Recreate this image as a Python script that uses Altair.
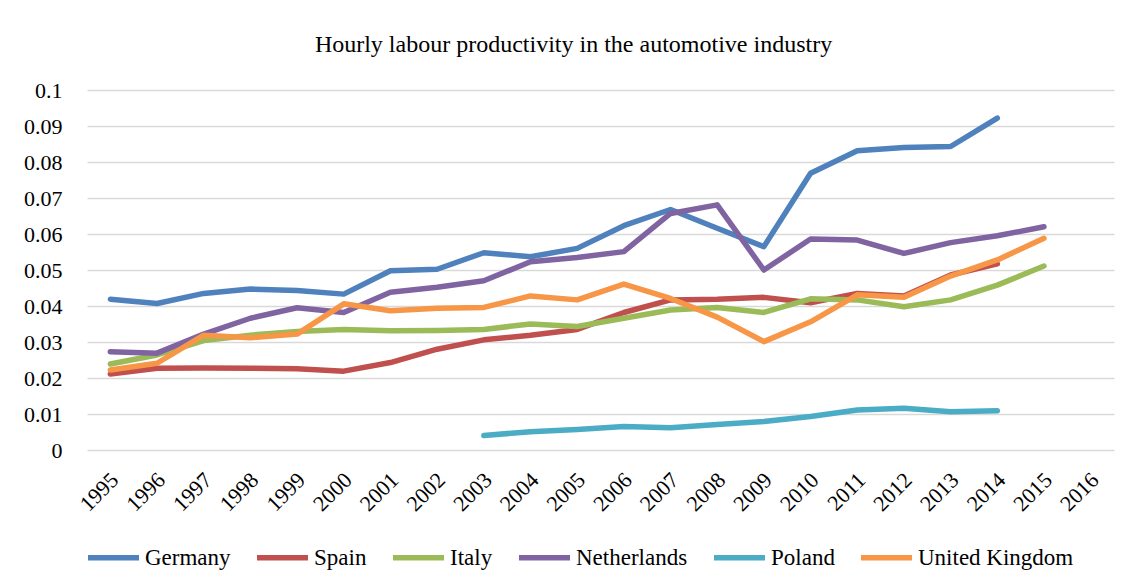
import altair as alt
import pandas as pd

years = [str(y) for y in range(1995, 2017)]

series_names = ["Germany", "Spain", "Italy", "Netherlands", "Poland", "United Kingdom"]
colors = ["#4F81BD", "#C0504D", "#9BBB59", "#8064A2", "#4BACC6", "#F79646"]

germany = [0.0419, 0.0407, 0.0435, 0.0447, 0.0443, 0.0433, 0.0498, 0.0502, 0.0548, 0.0537,
           0.0560, 0.0623, 0.0668, 0.0616, 0.0565, 0.0769, 0.0831, 0.0840, 0.0843, 0.0922]
germany_years = years[0:20]

spain = [0.0211, 0.0227, 0.0228, 0.0227, 0.0226, 0.0219, 0.0243, 0.0280, 0.0306, 0.0319,
         0.0335, 0.0382, 0.0417, 0.0419, 0.0424, 0.0409, 0.0435, 0.0428, 0.0486, 0.0517]
spain_years = years[0:20]

italy = [0.0239, 0.0264, 0.0304, 0.0319, 0.0329, 0.0335, 0.0331, 0.0332, 0.0335, 0.0350,
         0.0343, 0.0366, 0.0389, 0.0396, 0.0382, 0.0420, 0.0417, 0.0398, 0.0417, 0.0458, 0.0511]
italy_years = years[0:21]

netherlands = [0.0273, 0.0269, 0.0322, 0.0366, 0.0395, 0.0382, 0.0438, 0.0452, 0.0470, 0.0523,
               0.0535, 0.0551, 0.0657, 0.0681, 0.0500, 0.0586, 0.0583, 0.0546, 0.0576, 0.0595, 0.0620]
netherlands_years = years[0:21]

poland = [0.0040, 0.0051, 0.0057, 0.0065, 0.0062, 0.0071, 0.0079, 0.0093, 0.0111, 0.0116,
          0.0106, 0.0109]
poland_years = years[8:20]

uk = [0.0222, 0.0241, 0.0319, 0.0312, 0.0322, 0.0406, 0.0387, 0.0394, 0.0396, 0.0428,
      0.0417, 0.0461, 0.0421, 0.0369, 0.0301, 0.0356, 0.0431, 0.0424, 0.0483, 0.0528, 0.0588]
uk_years = years[0:21]

y_ticks = [0, 0.01, 0.02, 0.03, 0.04, 0.05, 0.06, 0.07, 0.08, 0.09, 0.1]

rows = []
for name, ys, vs in [
    ("Germany", germany_years, germany),
    ("Spain", spain_years, spain),
    ("Italy", italy_years, italy),
    ("Netherlands", netherlands_years, netherlands),
    ("Poland", poland_years, poland),
    ("United Kingdom", uk_years, uk),
]:
    for y, v in zip(ys, vs):
        rows.append({"Country": name, "Year": y, "Value": v})
df = pd.DataFrame(rows)

FONT = "Liberation Serif"

chart = alt.Chart(df).mark_line(strokeWidth=5.5, strokeCap="round", strokeJoin="round").encode(
    x=alt.X("Year:O", scale=alt.Scale(domain=years, padding=0.5),
            axis=alt.Axis(title=None, labelAngle=-45, labelAlign="right", labelBaseline="middle",
                          labelPadding=26, labelOffset=4, ticks=False, domain=False,
                          labelFont=FONT, labelFontSize=22, labelColor="#000000")),
    y=alt.Y("Value:Q", scale=alt.Scale(domain=[0, 0.1], nice=False),
            axis=alt.Axis(title=None, values=y_ticks, format=".2~f", ticks=False, domain=False,
                          grid=True, gridColor="#d9d9d9", gridWidth=1.5, labelPadding=25,
                          labelFont=FONT, labelFontSize=22, labelColor="#000000")),
    color=alt.Color("Country:N", scale=alt.Scale(domain=series_names, range=colors),
                    sort=series_names,
                    legend=alt.Legend(title=None, orient="none", direction="horizontal",
                                      legendX=-2, legendY=439, symbolType="stroke",
                                      symbolSize=2600, symbolStrokeWidth=5.5,
                                      labelFont=FONT, labelFontSize=23, labelColor="#000000",
                                      labelOffset=3, columnPadding=15, padding=0,
                                      labelLimit=400)),
).properties(
    width=1027,
    height=360,
    title=alt.TitleParams("Hourly labour productivity in the automotive industry",
                          font=FONT, fontSize=24, fontWeight="normal", color="#000000",
                          anchor="middle", dx=-27, offset=22),
    autosize=alt.AutoSizeParams(type="none"),
    padding={"left": 79, "top": 82, "right": 10, "bottom": 120},
).configure_view(stroke=None)

chart.save("out.html", embed_options={"renderer": "svg", "actions": False})
